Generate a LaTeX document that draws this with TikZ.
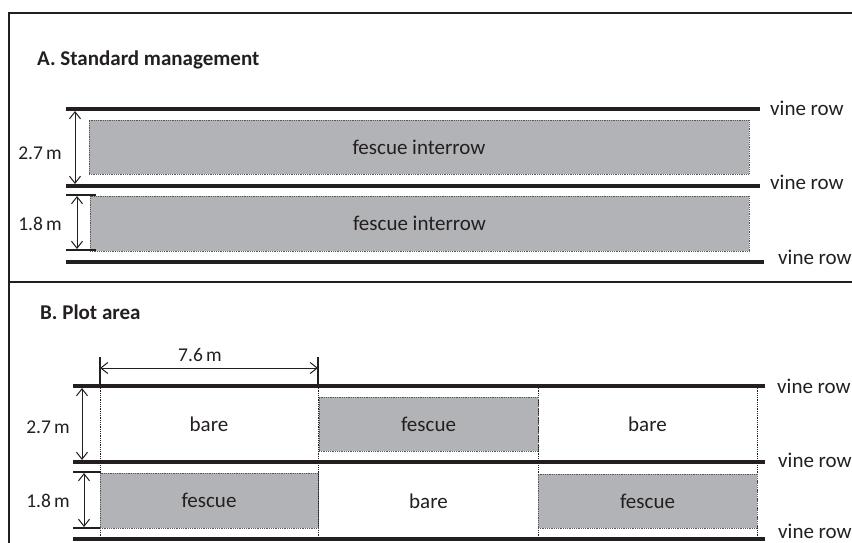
\documentclass[tikz,border=0pt]{standalone}
\usepackage{fontspec}
\setmainfont{Carlito}
\usetikzlibrary{arrows.meta}
\definecolor{ink}{RGB}{35,31,32}
\definecolor{grass}{RGB}{178,179,182}

\begin{document}
\begin{tikzpicture}[x=1pt,y=-1pt,font=\fontsize{21}{25}\selectfont,text=ink,
  row/.style={draw=ink,line width=4pt},
  stub/.style={draw=ink,line width=1.6pt},
  frame/.style={draw=ink,line width=1.4pt},
  dim/.style={draw=ink,line width=1pt,{Straight Barb[length=7pt,width=11pt]}-{Straight Barb[length=7pt,width=11pt]}},
  fescue/.style={draw=ink!75,densely dotted,line width=0.8pt,fill=grass,inner sep=0pt},
  plot/.style={draw=ink,densely dotted,line width=0.8pt},
  rowlabel/.style={anchor=base west,inner sep=0pt},
  dimlabel/.style={anchor=base east,inner sep=0pt,font=\fontsize{19.5}{23}\selectfont},
  title/.style={anchor=base west,inner sep=0pt,font=\fontsize{21}{25}\selectfont\bfseries}]
\useasboundingbox (0,0) rectangle (852,543);
% frame
\draw[frame] (852,13) -- (9,13) -- (9,543);
\draw[frame] (9,282) -- (852,282);

% A. standard management
\node[title] (ta) at (37,66) {A. Standard management};
\coordinate (a1w) at (66,109); \coordinate (a1e) at (760,109);
\coordinate (a2w) at (66,186); \coordinate (a2e) at (760,186);
\coordinate (a3w) at (66,262); \coordinate (a3e) at (764,262);
\node[fescue,minimum width=660pt,minimum height=54pt] (fa1) at (419,147) {fescue interrow};
\node[fescue,minimum width=659pt,minimum height=55pt] (fa2) at (419.5,223.5) {fescue interrow};
\draw[row] (a1w) -- (a1e);
\draw[row] (a2w) -- (a2e);
\draw[row] (a3w) -- (a3e);
\node[rowlabel] (va1) at (770,116) {vine row};
\node[rowlabel] (va2) at (770,189) {vine row};
\node[rowlabel] (va3) at (778,264) {vine row};
\coordinate (sa1w) at (66,195); \coordinate (sa1e) at (96,195);
\coordinate (sa2w) at (66,250); \coordinate (sa2e) at (96,250);
\draw[stub] (sa1w) -- (sa1e);
\draw[stub] (sa2w) -- (sa2e);
\coordinate (da1t) at (75,111); \coordinate (da1b) at (75,184);
\coordinate (da2t) at (77,196); \coordinate (da2b) at (77,249);
\draw[dim] (da1t) -- (da1b);
\draw[dim] (da2t) -- (da2b);
\node[dimlabel] (la1) at (62,159) {2.7\,m};
\node[dimlabel] (la2) at (62,230) {1.8\,m};

% B. plot area
\node[title] (tb) at (40,319) {B. Plot area};
\foreach \x [count=\i] in {100,318,538,757}
  \draw[plot] (\x,386) coordinate (p\i t) -- (\x,539) coordinate (p\i b);
\node[fescue,minimum width=219pt,minimum height=54pt] (fb1) at (428.5,424) {fescue};
\node[fescue,minimum width=218pt,minimum height=55pt] (fb2) at (209,500.5) {fescue};
\node[fescue,minimum width=219pt,minimum height=54pt] (fb3) at (647.5,501) {fescue};
\node (bb1) at (209,424) {bare};
\node (bb2) at (647.5,424) {bare};
\node (bb3) at (428.5,501) {bare};
\coordinate (b1w) at (73,386); \coordinate (b1e) at (765,386);
\coordinate (b2w) at (73,462); \coordinate (b2e) at (765,462);
\coordinate (b3w) at (73,539); \coordinate (b3e) at (765,539);
\draw[row] (b1w) -- (b1e);
\draw[row] (b2w) -- (b2e);
\draw[row] (b3w) -- (b3e);
\node[rowlabel] (vb1) at (777,393) {vine row};
\node[rowlabel] (vb2) at (778,467) {vine row};
\node[rowlabel] (vb3) at (778,538) {vine row};
\coordinate (k1) at (100,357); \coordinate (k2) at (318,357);
\draw[stub] (k1) -- (p1t);
\draw[stub] (k2) -- (p2t);
\coordinate (w1) at (100,368); \coordinate (w2) at (318,368);
\draw[dim] (w1) -- (w2);
\node[dimlabel,anchor=base] (lw) at (200,361) {7.6\,m};
\coordinate (sb1w) at (73,472); \coordinate (sb1e) at (100,472);
\coordinate (sb2w) at (73,528); \coordinate (sb2e) at (100,528);
\draw[stub] (sb1w) -- (sb1e);
\draw[stub] (sb2w) -- (sb2e);
\coordinate (db1t) at (82,388); \coordinate (db1b) at (82,460);
\coordinate (db2t) at (84,473); \coordinate (db2b) at (84,527);
\draw[dim] (db1t) -- (db1b);
\draw[dim] (db2t) -- (db2b);
\node[dimlabel] (lb1) at (70,433) {2.7\,m};
\node[dimlabel] (lb2) at (70,507) {1.8\,m};
\end{tikzpicture}
\end{document}
